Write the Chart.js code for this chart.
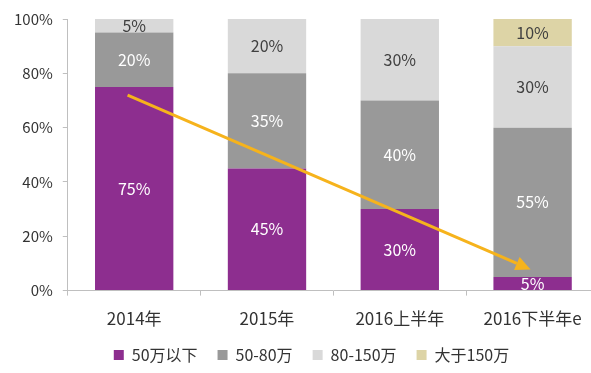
<!DOCTYPE html>
<html>
<head>
<meta charset="utf-8">
<script src="https://cdn.jsdelivr.net/npm/chart.js@4/dist/chart.umd.min.js"></script>
<style>
  html, body { margin: 0; padding: 0; background: #fff; overflow: hidden; }
  #wrap { width: 600px; height: 373px; }
</style>
</head>
<body>
<div id="wrap"><canvas id="myChart"></canvas></div>
<script>
const categories = ['2014年', '2015年', '2016上半年', '2016下半年e'];
const seriesNames = ['50万以下', '50-80万', '80-150万', '大于150万'];
const below50 = [75, 45, 30, 5];
const from50to80 = [20, 35, 40, 55];
const from80to150 = [5, 20, 30, 30];
const above150 = [0, 0, 0, 10];
const yTicks = [0, 20, 40, 60, 80, 100];
// arrow drawn in data units (category index, percent)
const arrowFrom = [-0.05, 72];
const arrowTo = [2.985, 7.8];

const colors = ['#8D2E8F', '#999999', '#D9D9D9', '#DDD4A6'];
const labelColors = ['#ffffff', '#ffffff', '#404040', '#404040'];
const seriesValues = [below50, from50to80, from80to150, above150];
const FONT = '"Noto Sans CJK SC", sans-serif';

// labels in the middle of each segment
const segmentLabels = {
  id: 'segmentLabels',
  afterDatasetsDraw(chart) {
    const ctx = chart.ctx;
    ctx.save();
    ctx.font = '16px ' + FONT;
    ctx.textAlign = 'center';
    ctx.textBaseline = 'middle';
    chart.data.datasets.forEach((ds, i) => {
      const meta = chart.getDatasetMeta(i);
      meta.data.forEach((bar, j) => {
        const v = ds.data[j];
        if (!v) return;
        ctx.fillStyle = labelColors[i];
        ctx.fillText(v + '%', bar.x, (bar.y + bar.base) / 2);
      });
    });
    ctx.restore();
  }
};

const trendArrow = {
  id: 'trendArrow',
  afterDatasetsDraw(chart) {
    const x = chart.scales.x, y = chart.scales.y;
    const x1 = x.getPixelForValue(arrowFrom[0]), y1 = y.getPixelForValue(arrowFrom[1]);
    const x2 = x.getPixelForValue(arrowTo[0]), y2 = y.getPixelForValue(arrowTo[1]);
    const ang = Math.atan2(y2 - y1, x2 - x1);
    const head = 15, half = 7;
    const ctx = chart.ctx;
    ctx.save();
    ctx.strokeStyle = '#F6B31C';
    ctx.fillStyle = '#F6B31C';
    ctx.lineWidth = 3;
    ctx.beginPath();
    ctx.moveTo(x1, y1);
    ctx.lineTo(x2 - head * Math.cos(ang), y2 - head * Math.sin(ang));
    ctx.stroke();
    ctx.translate(x2, y2);
    ctx.rotate(ang);
    ctx.beginPath();
    ctx.moveTo(0, 0);
    ctx.lineTo(-head, -half);
    ctx.lineTo(-head, half);
    ctx.closePath();
    ctx.fill();
    ctx.restore();
  }
};

// the legend sits a bit right of the canvas centre in the original
const legendShift = {
  id: 'legendShift',
  afterLayout(chart) {
    chart.legend.left += 10;
    chart.legend.right += 10;
  }
};

new Chart(document.getElementById('myChart'), {
  type: 'bar',
  data: {
    labels: categories,
    datasets: seriesNames.map((name, i) => ({
      label: name,
      data: seriesValues[i],
      backgroundColor: colors[i],
      categoryPercentage: 1,
      barPercentage: 0.59
    }))
  },
  plugins: [trendArrow, segmentLabels, legendShift],
  options: {
    responsive: true,
    maintainAspectRatio: false,
    animation: false,
    layout: { padding: { left: 4, right: 1, top: 10, bottom: 0 } },
    plugins: {
      tooltip: { enabled: false },
      legend: {
        position: 'bottom',
        labels: {
          boxWidth: 10,
          boxHeight: 10,
          padding: 20,
          color: '#333',
          font: { size: 16, family: FONT }
        }
      }
    },
    scales: {
      x: {
        stacked: true,
        afterFit(axis) { axis.height -= 15; },
        grid: { offset: true, drawOnChartArea: false, drawTicks: true, tickLength: 5, color: '#BFBFBF' },
        border: { color: '#BFBFBF' },
        ticks: { color: '#333', padding: 13, font: { size: 17, family: FONT } }
      },
      y: {
        stacked: true,
        min: 0,
        max: 100,
        afterBuildTicks(axis) { axis.ticks = yTicks.map(v => ({ value: v })); },
        grid: { drawOnChartArea: false, drawTicks: true, tickLength: 5, color: '#BFBFBF' },
        border: { color: '#BFBFBF' },
        ticks: {
          color: '#333',
          padding: 10,
          font: { size: 15, family: FONT },
          callback: v => v + '%'
        }
      }
    }
  }
});
</script>
</body>
</html>
